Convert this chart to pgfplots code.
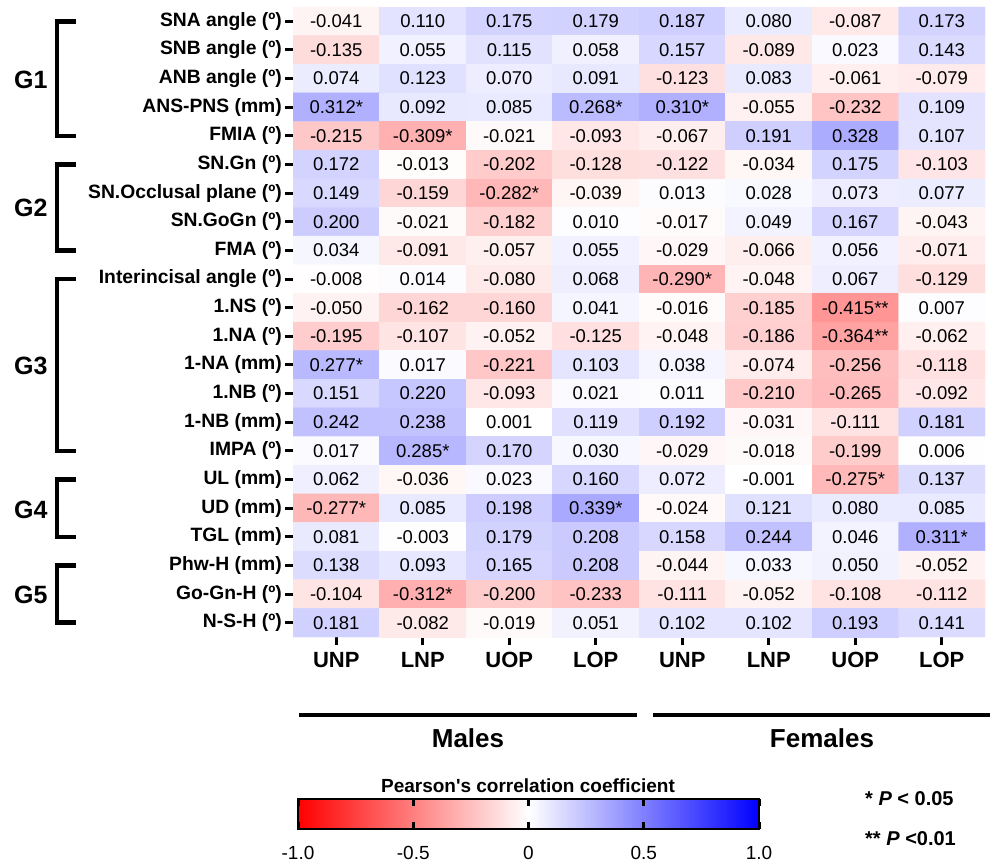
\documentclass[border=0pt]{standalone}
\usepackage{pgfplots}
\pgfplotsset{compat=1.18}
\usepackage{pgfplotstable}
\usepackage{fontspec}
\setmainfont{Liberation Sans}
\pgfplotsset{colormap={rwb}{rgb255=(255,0,0) rgb255=(255,255,255) rgb255=(0,0,255)}}

\pgfplotstableread{
x y v l
1 22 -0.041 -0.041
2 22 0.110 0.110
3 22 0.175 0.175
4 22 0.179 0.179
5 22 0.187 0.187
6 22 0.080 0.080
7 22 -0.087 -0.087
8 22 0.173 0.173
1 21 -0.135 -0.135
2 21 0.055 0.055
3 21 0.115 0.115
4 21 0.058 0.058
5 21 0.157 0.157
6 21 -0.089 -0.089
7 21 0.023 0.023
8 21 0.143 0.143
1 20 0.074 0.074
2 20 0.123 0.123
3 20 0.070 0.070
4 20 0.091 0.091
5 20 -0.123 -0.123
6 20 0.083 0.083
7 20 -0.061 -0.061
8 20 -0.079 -0.079
1 19 0.312 0.312*
2 19 0.092 0.092
3 19 0.085 0.085
4 19 0.268 0.268*
5 19 0.310 0.310*
6 19 -0.055 -0.055
7 19 -0.232 -0.232
8 19 0.109 0.109
1 18 -0.215 -0.215
2 18 -0.309 -0.309*
3 18 -0.021 -0.021
4 18 -0.093 -0.093
5 18 -0.067 -0.067
6 18 0.191 0.191
7 18 0.328 0.328
8 18 0.107 0.107
1 17 0.172 0.172
2 17 -0.013 -0.013
3 17 -0.202 -0.202
4 17 -0.128 -0.128
5 17 -0.122 -0.122
6 17 -0.034 -0.034
7 17 0.175 0.175
8 17 -0.103 -0.103
1 16 0.149 0.149
2 16 -0.159 -0.159
3 16 -0.282 -0.282*
4 16 -0.039 -0.039
5 16 0.013 0.013
6 16 0.028 0.028
7 16 0.073 0.073
8 16 0.077 0.077
1 15 0.200 0.200
2 15 -0.021 -0.021
3 15 -0.182 -0.182
4 15 0.010 0.010
5 15 -0.017 -0.017
6 15 0.049 0.049
7 15 0.167 0.167
8 15 -0.043 -0.043
1 14 0.034 0.034
2 14 -0.091 -0.091
3 14 -0.057 -0.057
4 14 0.055 0.055
5 14 -0.029 -0.029
6 14 -0.066 -0.066
7 14 0.056 0.056
8 14 -0.071 -0.071
1 13 -0.008 -0.008
2 13 0.014 0.014
3 13 -0.080 -0.080
4 13 0.068 0.068
5 13 -0.290 -0.290*
6 13 -0.048 -0.048
7 13 0.067 0.067
8 13 -0.129 -0.129
1 12 -0.050 -0.050
2 12 -0.162 -0.162
3 12 -0.160 -0.160
4 12 0.041 0.041
5 12 -0.016 -0.016
6 12 -0.185 -0.185
7 12 -0.415 -0.415**
8 12 0.007 0.007
1 11 -0.195 -0.195
2 11 -0.107 -0.107
3 11 -0.052 -0.052
4 11 -0.125 -0.125
5 11 -0.048 -0.048
6 11 -0.186 -0.186
7 11 -0.364 -0.364**
8 11 -0.062 -0.062
1 10 0.277 0.277*
2 10 0.017 0.017
3 10 -0.221 -0.221
4 10 0.103 0.103
5 10 0.038 0.038
6 10 -0.074 -0.074
7 10 -0.256 -0.256
8 10 -0.118 -0.118
1 9 0.151 0.151
2 9 0.220 0.220
3 9 -0.093 -0.093
4 9 0.021 0.021
5 9 0.011 0.011
6 9 -0.210 -0.210
7 9 -0.265 -0.265
8 9 -0.092 -0.092
1 8 0.242 0.242
2 8 0.238 0.238
3 8 0.001 0.001
4 8 0.119 0.119
5 8 0.192 0.192
6 8 -0.031 -0.031
7 8 -0.111 -0.111
8 8 0.181 0.181
1 7 0.017 0.017
2 7 0.285 0.285*
3 7 0.170 0.170
4 7 0.030 0.030
5 7 -0.029 -0.029
6 7 -0.018 -0.018
7 7 -0.199 -0.199
8 7 0.006 0.006
1 6 0.062 0.062
2 6 -0.036 -0.036
3 6 0.023 0.023
4 6 0.160 0.160
5 6 0.072 0.072
6 6 -0.001 -0.001
7 6 -0.275 -0.275*
8 6 0.137 0.137
1 5 -0.277 -0.277*
2 5 0.085 0.085
3 5 0.198 0.198
4 5 0.339 0.339*
5 5 -0.024 -0.024
6 5 0.121 0.121
7 5 0.080 0.080
8 5 0.085 0.085
1 4 0.081 0.081
2 4 -0.003 -0.003
3 4 0.179 0.179
4 4 0.208 0.208
5 4 0.158 0.158
6 4 0.244 0.244
7 4 0.046 0.046
8 4 0.311 0.311*
1 3 0.138 0.138
2 3 0.093 0.093
3 3 0.165 0.165
4 3 0.208 0.208
5 3 -0.044 -0.044
6 3 0.033 0.033
7 3 0.050 0.050
8 3 -0.052 -0.052
1 2 -0.104 -0.104
2 2 -0.312 -0.312*
3 2 -0.200 -0.200
4 2 -0.233 -0.233
5 2 -0.111 -0.111
6 2 -0.052 -0.052
7 2 -0.108 -0.108
8 2 -0.112 -0.112
1 1 0.181 0.181
2 1 -0.082 -0.082
3 1 -0.019 -0.019
4 1 0.051 0.051
5 1 0.102 0.102
6 1 0.102 0.102
7 1 0.193 0.193
8 1 0.141 0.141
}\heat

\begin{document}
\begin{tikzpicture}[x=1pt,y=1pt]
\path[use as bounding box] (0pt,0pt) rectangle (990pt,-866pt);

% main heatmap
\begin{axis}[
  at={(293pt,-637pt)}, anchor=south west,
  scale only axis, width=692pt, height=630pt,
  xmin=0.5, xmax=8.5, ymin=0.5, ymax=22.5,
  enlargelimits=false,
  colormap name=rwb, point meta min=-1, point meta max=1,
  axis line style={draw=none},
  xtick={1,...,8},
  xticklabels={UNP,LNP,UOP,LOP,UNP,LNP,UOP,LOP},
  ytick={1,...,22},
  yticklabels={{N-S-H (º)},{Go-Gn-H (º)},{Phw-H (mm)},{TGL (mm)},{UD (mm)},{UL (mm)},{IMPA (º)},{1-NB (mm)},{1.NB (º)},{1-NA (mm)},{1.NA (º)},{1.NS (º)},{Interincisal angle (º)},{FMA (º)},{SN.GoGn (º)},{SN.Occlusal plane (º)},{SN.Gn (º)},{FMIA (º)},{ANS-PNS (mm)},{ANB angle (º)},{SNB angle (º)},{SNA angle (º)}},
  xtick pos=left, ytick pos=left,
  tick align=outside, major tick length=8pt,
  tick style={line width=3pt, black},
  yticklabel style={font=\fontsize{19.3pt}{21pt}\selectfont\bfseries, inner xsep=3pt},
  xticklabel style={font=\fontsize{22pt}{24pt}\selectfont\bfseries, yshift=-3.5pt},
]
\addplot[matrix plot*, mesh/cols=8, point meta=explicit] table[x=x, y=y, meta=v] {\heat};
\addplot[draw=none, nodes near coords, point meta=explicit symbolic,
  nodes near coords align={center},
  every node near coord/.append style={font=\fontsize{18.5pt}{20pt}\selectfont, text=black}]
  table[x=x, y=y, meta=l] {\heat};
\end{axis}

% colour bar
\begin{axis}[
  at={(298pt,-829pt)}, anchor=south west,
  scale only axis, width=461pt, height=30pt,
  xmin=-1, xmax=1, ymin=0, ymax=1, enlargelimits=false,
  axis on top,
  ytick=\empty,
  xtick={-1,-0.5,0,0.5,1},
  xticklabels={-1.0,-0.5,0,0.5,1.0},
  xtick pos=both, xticklabel pos=left,
  tick align=inside, major tick length=7pt,
  tick style={line width=3pt, black},
  axis line style={line width=2.5pt},
  xticklabel style={font=\fontsize{19pt}{21pt}\selectfont, yshift=-14pt},
]
\shade[left color=red, right color=white] (axis cs:-1,0) rectangle (axis cs:0,1);
\shade[left color=white, right color=blue] (axis cs:0,0) rectangle (axis cs:1,1);
\end{axis}

% group brackets
\begin{scope}[line width=4.5pt]
\draw (76pt,-21.3pt) -- (57pt,-21.3pt) -- (57pt,-135.9pt) -- (76pt,-135.9pt);
\draw (76pt,-164.5pt) -- (57pt,-164.5pt) -- (57pt,-250.4pt) -- (76pt,-250.4pt);
\draw (76pt,-279.1pt) -- (57pt,-279.1pt) -- (57pt,-450.9pt) -- (76pt,-450.9pt);
\draw (76pt,-479.5pt) -- (57pt,-479.5pt) -- (57pt,-536.8pt) -- (76pt,-536.8pt);
\draw (76pt,-565.4pt) -- (57pt,-565.4pt) -- (57pt,-622.7pt) -- (76pt,-622.7pt);
\end{scope}
\begin{scope}[every node/.style={anchor=base west, inner sep=0pt, font=\fontsize{25pt}{27pt}\selectfont\bfseries}]
\node at (14pt,-88.2pt) {G1};
\node at (14pt,-217pt) {G2};
\node at (14pt,-374.5pt) {G3};
\node at (14pt,-518.5pt) {G4};
\node at (14pt,-603.5pt) {G5};
\end{scope}

% sex groups
\draw[line width=4.5pt] (299pt,-715pt) -- (637pt,-715pt);
\draw[line width=4.5pt] (653pt,-715pt) -- (990pt,-715pt);
\node[anchor=base, inner sep=0pt, font=\fontsize{26pt}{28pt}\selectfont\bfseries] at (468pt,-747pt) {Males};
\node[anchor=base, inner sep=0pt, font=\fontsize{26pt}{28pt}\selectfont\bfseries] at (822pt,-747pt) {Females};

% colour bar title and significance notes
\node[anchor=base, inner sep=0pt, font=\fontsize{19pt}{21pt}\selectfont\bfseries] at (528pt,-792pt) {Pearson\textquotesingle s correlation coefficient};
\node[anchor=base west, inner sep=0pt, font=\fontsize{20pt}{22pt}\selectfont\bfseries] at (865pt,-805pt) {* \textit{P} < 0.05};
\node[anchor=base west, inner sep=0pt, font=\fontsize{20pt}{22pt}\selectfont\bfseries] at (865pt,-845pt) {** \textit{P} <0.01};
\end{tikzpicture}
\end{document}
